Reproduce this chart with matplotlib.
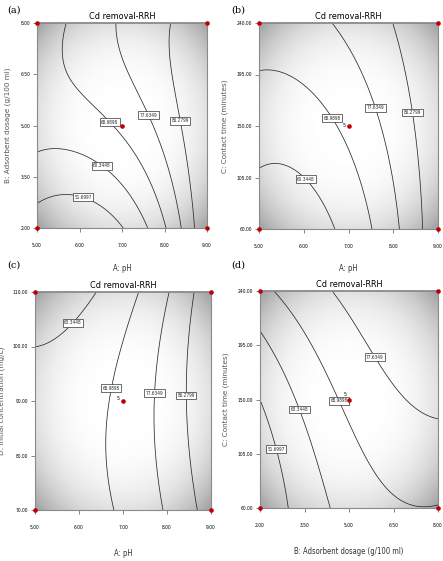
import numpy as np
import matplotlib
matplotlib.use("Agg")
import matplotlib.pyplot as plt
from matplotlib import font_manager

# ---------------- data ----------------
title = "Cd removal-RRH"
levels = [51.6997, 60.3448, 68.9898, 77.6349, 86.2799]
level_fmt = {51.6997: "51.6997", 60.3448: "60.3448", 68.9898: "68.9898",
             77.6349: "77.6349", 86.2799: "86.2799"}

# fitted cubic response-surface coefficients (coded units u, v in [-1, 1])
# term order: 1, u, v, u^2, uv, v^2, u^3, u^2 v, u v^2, v^3
coef_a = [70.58, 15.87, 14.90, 9.25, -5.03, -5.59, 0.56, -10.28, 2.91, -1.26]
coef_b = [70.92, 15.96, 8.68, 7.66, -3.97, 0.44, -1.33, -3.52, -0.27, -0.40]
coef_c = [71.21, 15.34, -2.02, 7.71, 2.99, -3.41, 0.05, 0.75, 0.70, -0.45]
coef_d = [70.78, 14.40, 8.44, -5.31, -1.45, 0.70, -0.66, 1.45, -3.12, -0.29]

ph_ticks = [5.00, 6.00, 7.00, 8.00, 9.00]
dose_ticks = [2.00, 3.50, 5.00, 6.50, 8.00]
time_ticks = [60.00, 105.00, 150.00, 195.00, 240.00]
conc_ticks = [70.00, 80.00, 90.00, 100.00, 110.00]

xlabel_ph = "A: pH"
xlabel_dose = "B: Adsorbent dosage (g/100 ml)"
ylabel_dose = "B: Adsorbent dosage (g/100 ml)"
ylabel_time = "C: Contact time (minutes)"
ylabel_conc = "D: Initial concentration (mg/L)"

# contour label positions (coded units)
lab_a = {51.6997: (-0.46, -0.70), 60.3448: (-0.24, -0.40), 68.9898: (-0.15, 0.03),
         77.6349: (0.31, 0.10), 86.2799: (0.70, 0.05)}
lab_b = {60.3448: (-0.49, -0.53), 68.9898: (-0.19, 0.07), 77.6349: (0.31, 0.18),
         86.2799: (0.70, 0.13)}
lab_c = {60.3448: (-0.60, 0.74), 68.9898: (-0.16, 0.12), 77.6349: (0.35, 0.07),
         86.2799: (0.71, 0.05)}
lab_d = {51.6997: (-0.83, -0.46), 60.3448: (-0.58, -0.10), 68.9898: (-0.13, -0.02),
         77.6349: (0.33, 0.41)}

# ---------------- style ----------------
names = {f.name for f in font_manager.fontManager.ttflist}
NARROW_FAMILY = 'Liberation Sans Narrow' if 'Liberation Sans Narrow' in names else 'DejaVu Sans'
NARROW = dict(family=NARROW_FAMILY, stretch='condensed')
DOT = '#c00000'

def terms(u, v):
    return np.stack([np.ones_like(u), u, v, u**2, u*v, v**2,
                     u**3, u*u*v, u*v*v, v**3], axis=-1)

fig = plt.figure(figsize=(4.43, 5.61), dpi=100)

def px_axes(l, t, r, b):
    W, H = 443.0, 561.0
    return fig.add_axes([l / W, 1 - b / H, (r - l) / W, (b - t) / H])

panels = [
    dict(box=(37, 23, 207, 228), coef=coef_a, xt=ph_ticks, yt=dose_ticks, xl=xlabel_ph,
         yl=ylabel_dose, lab=lab_a, tag="(a)", tagxy=(14, 10), ylx=8, xly=268, five=None),
    dict(box=(259, 23, 438, 229), coef=coef_b, xt=ph_ticks, yt=time_ticks, xl=xlabel_ph,
         yl=ylabel_time, lab=lab_b, tag="(b)", tagxy=(238, 10), ylx=225, xly=268, five=(-3.3, 0.5)),
    dict(box=(35, 292, 211, 510), coef=coef_c, xt=ph_ticks, yt=conc_ticks, xl=xlabel_ph,
         yl=ylabel_conc, lab=lab_c, tag="(c)", tagxy=(14, 265), ylx=2, xly=553, five=(-3.6, 1.5)),
    dict(box=(260, 291, 438, 508), coef=coef_d, xt=dose_ticks, yt=time_ticks, xl=xlabel_dose,
         yl=ylabel_time, lab=lab_d, tag="(d)", tagxy=(238, 265), ylx=226, xly=551, five=(-2.5, 3.8)),
]

for p in panels:
    ax = px_axes(*p['box'])
    x0, x1 = p['xt'][0], p['xt'][-1]
    y0, y1 = p['yt'][0], p['yt'][-1]
    xc, xh = (x0 + x1) / 2, (x1 - x0) / 2
    yc, yh = (y0 + y1) / 2, (y1 - y0) / 2

    # vignette background
    g = np.linspace(-1, 1, 200)
    gu, gv = np.meshgrid(g, g)
    r = np.sqrt(gu**2 + gv**2) / np.sqrt(2)
    shade = 1 - 0.38 * r**3.4
    ax.imshow(shade, extent=(x0, x1, y0, y1), origin='lower', cmap='gray',
              vmin=0, vmax=1, aspect='auto', interpolation='bilinear', zorder=0)

    # response surface
    X = np.linspace(x0, x1, 201)
    Y = np.linspace(y0, y1, 201)
    XX, YY = np.meshgrid(X, Y)
    ZZ = terms((XX - xc) / xh, (YY - yc) / yh) @ np.array(p['coef'])
    cs = ax.contour(XX, YY, ZZ, levels=levels, colors='#2a2a2a', linewidths=0.55, zorder=2)
    man = []
    for lv in levels:
        if lv in p['lab']:
            u, v = p['lab'][lv]
            man.append((xc + u * xh, yc + v * yh))
    texts = ax.clabel(cs, inline=False, fontsize=3.4, fmt=level_fmt, manual=man)
    for t in texts:
        t.set_fontfamily(NARROW['family'])
        t.set_fontstretch('condensed')
        t.set_bbox(dict(boxstyle='square,pad=0.3', fc='white', ec='#333333', lw=0.5))
        t.set_rotation(0)
        t.set_zorder(4)

    # design points
    ax.plot([x0, x1, x0, x1], [y0, y0, y1, y1], 'o', color=DOT, ms=3.3, mec='none',
            clip_on=False, zorder=5)
    ax.plot([xc], [yc], 'o', color=DOT, ms=3.3, mec='none', zorder=5)
    if p['five'] is not None:
        ax.annotate("5", (xc, yc), xytext=p['five'], textcoords='offset points',
                    fontsize=3.8, ha='center', va='center', zorder=6, **NARROW)

    ax.set_xlim(x0, x1)
    ax.set_ylim(y0, y1)
    ax.set_xticks(p['xt'])
    ax.set_yticks(p['yt'])
    ax.set_xticklabels(["%.2f" % v for v in p['xt']], fontsize=3.6, **NARROW)
    ax.set_yticklabels(["%.2f" % v for v in p['yt']], fontsize=3.6, **NARROW)
    ax.tick_params(length=3, width=0.5, color='#555555', pad=8)
    ax.tick_params(axis='y', pad=2)
    for s in ax.spines.values():
        s.set_color('#8a8a8a')
        s.set_linewidth(0.8)
    ax.spines['top'].set_linewidth(1.3)
    ax.set_title(title, fontsize=6.5, pad=3, **NARROW)

    l, t, rr, b = p['box']
    fig.text((l + rr) / 2 / 443, 1 - p['xly'] / 561, p['xl'], fontsize=5.5,
             ha='center', va='center', color='#333333', **NARROW)
    fig.text(p['ylx'] / 443, 1 - ((t + b) / 2) / 561, p['yl'], fontsize=5.2, rotation=90,
             ha='center', va='center', color='#555555')
    fig.text(p['tagxy'][0] / 443, 1 - p['tagxy'][1] / 561, p['tag'], fontsize=7,
             family='DejaVu Serif', ha='center', va='center')

fig.savefig("out.png", dpi=100)
